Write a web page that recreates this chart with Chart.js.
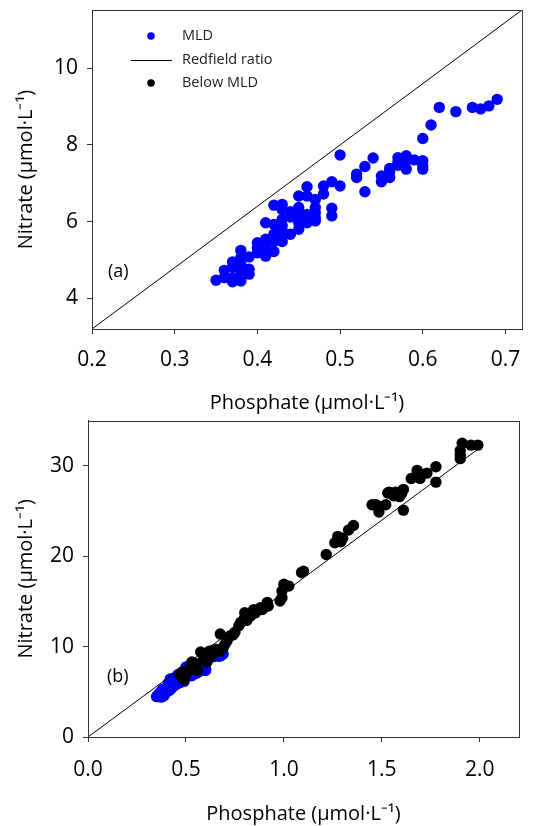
<!DOCTYPE html>
<html lang="en">
<head>
    <meta charset="UTF-8">
    <title>Nitrate vs Phosphate</title>
    <script src="https://cdn.jsdelivr.net/npm/chart.js"></script>
    <style>
        body {
            margin: 0;
            background: #fff;
            width: 537px;
            height: 826px;
            position: relative;
            overflow: hidden;
        }
        .panel {
            position: absolute;
            left: 0;
            width: 537px;
        }
        #panelA { top: 0; height: 415px; }
        #panelB { top: 415px; height: 411px; }
    </style>
</head>
<body>
    <div class="panel" id="panelA"><canvas id="chartA" width="537" height="415"></canvas></div>
    <div class="panel" id="panelB"><canvas id="chartB" width="537" height="411"></canvas></div>
    <script>
        // Mixed layer samples (blue)
        const mldX = [0.35, 0.36, 0.36, 0.37, 0.37, 0.37, 0.37, 0.38, 0.38, 0.38, 0.38, 0.38,
            0.39, 0.39, 0.39, 0.40, 0.40, 0.40, 0.41, 0.41, 0.41, 0.41, 0.41,
            0.42, 0.42, 0.42, 0.42, 0.42, 0.43, 0.43, 0.43, 0.43, 0.43, 0.43, 0.43,
            0.44, 0.44, 0.44, 0.45, 0.45, 0.45, 0.45, 0.45, 0.46, 0.46, 0.46, 0.46, 0.46,
            0.47, 0.47, 0.47, 0.47, 0.47, 0.48, 0.48, 0.49, 0.49, 0.49, 0.50, 0.50,
            0.52, 0.52, 0.53, 0.53, 0.54, 0.55, 0.55, 0.56, 0.56, 0.56, 0.57, 0.57, 0.57,
            0.58, 0.58, 0.58, 0.59, 0.60, 0.60, 0.60, 0.60, 0.61, 0.62, 0.64, 0.66, 0.67, 0.68, 0.69];
        const mldY = [4.47, 4.73, 4.54, 4.95, 4.81, 4.54, 4.43, 5.25, 5.06, 4.89, 4.71, 4.45,
            5.08, 4.76, 4.63, 5.45, 5.32, 5.19, 5.97, 5.54, 5.41, 5.28, 5.10,
            6.43, 5.93, 5.67, 5.48, 5.22, 6.45, 6.32, 6.06, 5.89, 5.76, 5.63, 5.48,
            6.26, 6.12, 5.67, 6.67, 6.37, 6.15, 5.97, 5.80, 6.91, 6.67, 6.19, 6.10, 5.97,
            6.58, 6.37, 6.23, 6.10, 6.02, 6.93, 6.72, 7.04, 6.35, 6.15, 7.74, 6.93,
            7.24, 7.15, 7.44, 6.78, 7.66, 7.19, 7.04, 7.39, 7.30, 7.15, 7.67, 7.55, 7.47,
            7.72, 7.59, 7.37, 7.61, 7.59, 7.45, 7.37, 8.17, 8.52, 8.98, 8.87, 8.98, 8.94, 9.02, 9.19];

        // Samples below the mixed layer (black)
        const belowX = [0.47, 0.48, 0.49, 0.50, 0.52, 0.53, 0.55, 0.56, 0.575, 0.59, 0.59, 0.607,
            0.615, 0.62, 0.64, 0.63, 0.655, 0.67, 0.675, 0.69, 0.70, 0.71, 0.727, 0.74, 0.75,
            0.77, 0.78, 0.795, 0.80, 0.81, 0.83, 0.846, 0.855, 0.88, 0.89, 0.915, 0.92,
            0.98, 0.99, 0.99, 1.0, 1.025, 1.09, 1.10, 1.216, 1.26, 1.275, 1.29, 1.30, 1.33, 1.355,
            1.45, 1.47, 1.485, 1.485, 1.52, 1.53, 1.537, 1.56, 1.57, 1.59, 1.60, 1.61, 1.61,
            1.65, 1.68, 1.695, 1.73, 1.776, 1.776, 1.90, 1.90, 1.90, 1.91, 1.955, 1.99];
        const belowY = [6.8, 7.2, 6.3, 7.0, 7.4, 8.3, 8.1, 7.4, 9.4, 9.0, 8.6, 8.3,
            9.2, 9.5, 9.6, 8.9, 9.7, 9.5, 11.4, 9.9, 10.3, 10.65, 11.2, 11.3, 11.6,
            12.3, 12.7, 13.0, 13.75, 12.9, 13.4, 14.1, 13.75, 14.3, 14.1, 14.9, 14.5,
            15.05, 15.4, 16.15, 16.9, 16.7, 18.2, 18.35, 20.2, 21.5, 22.2, 21.6, 22.0, 22.9, 23.4,
            25.7, 25.7, 25.5, 24.9, 25.7, 27.0, 27.1, 26.7, 27.1, 26.6, 26.95, 27.4, 25.1,
            28.6, 29.5, 28.6, 29.2, 29.9, 28.2, 30.8, 31.2, 31.7, 32.5, 32.3, 32.3];

        // Redfield ratio (N:P = 16) end points of each panel
        const redfieldA = [[0.2, 3.2], [0.72, 11.52]];
        const redfieldB = [[0, 0], [2.0, 32]];

        // tick labels
        const xTicksA = [0.2, 0.3, 0.4, 0.5, 0.6, 0.7];
        const yTicksA = [4, 6, 8, 10];
        const xTicksB = [0.0, 0.5, 1.0, 1.5, 2.0];
        const yTicksB = [0, 10, 20, 30];

        const xTitle = 'Phosphate (\u00b5mol\u00b7L\u207b\u00b9)';
        const yTitle = 'Nitrate (\u00b5mol\u00b7L\u207b\u00b9)';

        Chart.defaults.font.family = "'Open Sans', sans-serif";
        Chart.defaults.color = '#000';

        const toPoints = (xs, ys) => xs.map((x, i) => ({ x: x, y: ys[i] }));
        const pairs = arr => arr.map(p => ({ x: p[0], y: p[1] }));

        // frame around the plot area, the panel label and (a) legend
        function framePlugin(label, lblDx, lblDy, legend) {
            return {
                id: 'frame',
                afterDraw(chart) {
                    const { ctx, chartArea: a } = chart;
                    ctx.save();
                    ctx.strokeStyle = '#333';
                    ctx.lineWidth = 1;
                    ctx.strokeRect(Math.round(a.left) + 0.5, Math.round(a.top) + 0.5,
                        Math.round(a.right - a.left), Math.round(a.bottom - a.top));
                    ctx.fillStyle = '#000';
                    ctx.font = "18px 'Open Sans', sans-serif";
                    ctx.textBaseline = 'middle';
                    ctx.fillText(label, a.left + lblDx, a.bottom - lblDy);
                    if (legend) {
                        ctx.font = "14.5px 'Open Sans', sans-serif";
                        const lx = a.left + 59, tx = a.left + 90;
                        ctx.fillStyle = '#0000ff';
                        ctx.beginPath(); ctx.arc(lx, a.top + 26, 3.8, 0, Math.PI * 2); ctx.fill();
                        ctx.strokeStyle = '#000';
                        ctx.beginPath(); ctx.moveTo(a.left + 39, a.top + 50.5); ctx.lineTo(a.left + 80, a.top + 50.5); ctx.stroke();
                        ctx.fillStyle = '#000';
                        ctx.beginPath(); ctx.arc(lx, a.top + 73, 3.8, 0, Math.PI * 2); ctx.fill();
                        ctx.fillStyle = '#222';
                        ctx.fillText('MLD', tx, a.top + 26);
                        ctx.fillText('Redfield ratio', tx, a.top + 50);
                        ctx.fillText('Below MLD', tx, a.top + 73);
                    }
                    ctx.restore();
                }
            };
        }

        function noPad(s) {
            s.paddingTop = 0; s.paddingBottom = 0; s.paddingLeft = 0; s.paddingRight = 0;
        }

        function axes(xr, yr, xTicks, yTicks, yWidth, xHeight, xPad, fmtX) {
            const tickGrid = { display: true, drawOnChartArea: false, drawTicks: true, tickLength: 5, color: '#333' };
            return {
                x: {
                    type: 'linear', min: xr[0], max: xr[1],
                    grid: tickGrid,
                    border: { display: true, color: '#333' },
                    ticks: { font: { size: 21 }, padding: xPad, callback: fmtX, maxRotation: 0 },
                    afterBuildTicks: s => { s.ticks = xTicks.map(v => ({ value: v })); },
                    afterFit: s => { s.height = xHeight; noPad(s); },
                    title: { display: true, text: xTitle, font: { size: 20 }, padding: { top: 0, bottom: 0 } }
                },
                y: {
                    type: 'linear', min: yr[0], max: yr[1],
                    grid: tickGrid,
                    border: { display: true, color: '#333' },
                    ticks: { font: { size: 21 }, padding: 9, callback: v => String(v) },
                    afterBuildTicks: s => { s.ticks = yTicks.map(v => ({ value: v })); },
                    afterFit: s => { s.width = yWidth; noPad(s); },
                    title: { display: true, text: yTitle, font: { size: 20 }, padding: { top: 14, bottom: 0 } }
                }
            };
        }

        const common = {
            responsive: false,
            animation: false,
            plugins: { legend: { display: false }, tooltip: { enabled: false } },
            elements: { point: { borderWidth: 0 } }
        };

        new Chart(document.getElementById('chartA'), {
            type: 'scatter',
            data: {
                datasets: [
                    { label: 'MLD', data: toPoints(mldX, mldY), backgroundColor: '#0000ff', pointRadius: 5.7, order: 2 },
                    { label: 'Redfield ratio', data: pairs(redfieldA), showLine: true, borderColor: '#000',
                      borderWidth: 1, pointRadius: 0, order: 1 }
                ]
            },
            options: Object.assign({}, common, {
                layout: { padding: { top: 10, right: 15, left: 0, bottom: 0 } },
                scales: axes([0.2, 0.72], [3.2, 11.52], xTicksA, yTicksA, 92, 86, 13, v => v.toFixed(1))
            }),
            plugins: [framePlugin('(a)', 16, 57, true)]
        });

        new Chart(document.getElementById('chartB'), {
            type: 'scatter',
            data: {
                datasets: [
                    { label: 'MLD', data: toPoints(mldX, mldY), backgroundColor: '#0000ff', pointRadius: 5.7, order: 3 },
                    { label: 'Redfield ratio', data: pairs(redfieldB), showLine: true, borderColor: '#000',
                      borderWidth: 1, pointRadius: 0, order: 2 },
                    { label: 'Below MLD', data: toPoints(belowX, belowY), backgroundColor: '#000', pointRadius: 5.7, order: 1 }
                ]
            },
            options: Object.assign({}, common, {
                layout: { padding: { top: 5, right: 18, left: 0, bottom: 0 } },
                scales: axes([0, 2.2], [0, 35], xTicksB, yTicksB, 88, 89, 15, v => v.toFixed(1))
            }),
            plugins: [framePlugin('(b)', 19, 60, false)]
        });
    </script>
</body>
</html>
